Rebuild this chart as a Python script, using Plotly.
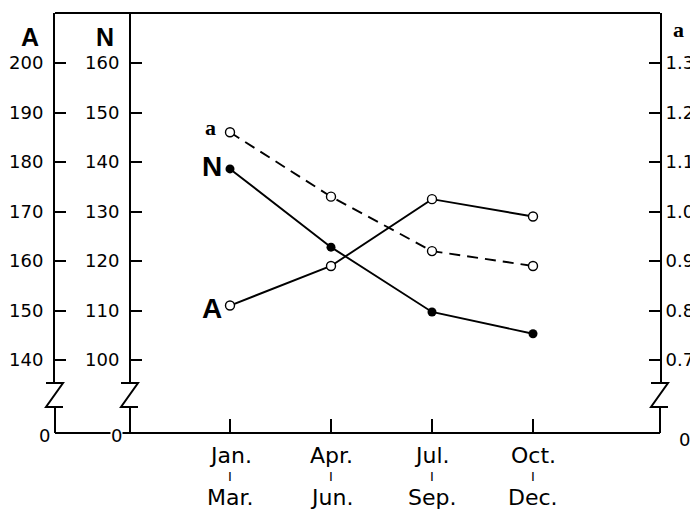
import plotly.graph_objects as go

# ---------------- data ----------------
periods_start = ["Jan.", "Apr.", "Jul.", "Oct."]
periods_end = ["Mar.", "Jun.", "Sep.", "Dec."]
A_values = [151, 159, 172.5, 169]
N_values = [138.6, 122.8, 109.7, 105.3]
a_values = [1.16, 1.03, 0.92, 0.89]
A_ticks = [140, 150, 160, 170, 180, 190, 200]
N_ticks = [100, 110, 120, 130, 140, 150, 160]
a_ticks = [0.7, 0.8, 0.9, 1.0, 1.1, 1.2, 1.3]
a_tick_text = ["0.7", "0.8", "0.9", "1.0", "1.1", "1.2", "1.3"]

# ---------------- layout geometry (screen pixels) ----------------
OFF = 8                      # page body margin
W, H = 698 - OFF, 510 - OFF
L, R, T, B = 55, 660, 13, 433
PW, PH = R - L, B - T
BRK_TOP, BRK_BOT = 383, 407
dom_bot = (B - BRK_TOP) / PH
N_X = 130
N_pos = (N_X - L) / PW

def px(x):
    return (x - L) / PW

def py(y):
    return (B - y) / PH

x_idx = list(range(len(periods_start)))
BLACK = "black"
NUMFONT = dict(family="DejaVu Sans", size=18, color=BLACK)

fig = go.Figure()

fig.add_trace(go.Scatter(
    x=x_idx, y=A_values, yaxis="y", mode="lines+markers",
    line=dict(color=BLACK, width=1.9),
    marker=dict(symbol="circle", size=9, color="white", line=dict(color=BLACK, width=1.4)),
    showlegend=False, name="A"))
fig.add_trace(go.Scatter(
    x=x_idx, y=N_values, yaxis="y2", mode="lines+markers",
    line=dict(color=BLACK, width=1.9),
    marker=dict(symbol="circle", size=9, color=BLACK),
    showlegend=False, name="N"))
fig.add_trace(go.Scatter(
    x=x_idx, y=a_values, yaxis="y3", mode="lines+markers",
    line=dict(color=BLACK, width=1.9, dash="11px,7px"),
    marker=dict(symbol="circle", size=9, color="white", line=dict(color=BLACK, width=1.4)),
    showlegend=False, name="a"))

common_y = dict(showgrid=False, zeroline=False, showline=True, linecolor=BLACK,
                linewidth=2, ticks="inside", ticklen=11, tickwidth=2, tickcolor=BLACK,
                tickfont=NUMFONT, domain=[dom_bot, 1])

fig.update_layout(
    width=W, height=H,
    margin=dict(l=L - OFF, r=W - (R - OFF), t=T - OFF, b=H - (B - OFF), autoexpand=False),
    paper_bgcolor="white", plot_bgcolor="white",
    xaxis=dict(range=[-(230 - L) / 101, 3 + (R - 533) / 101], tickvals=x_idx,
               ticktext=["" for _ in x_idx], showgrid=False, zeroline=False,
               showline=True, linecolor=BLACK, linewidth=2, ticks="inside",
               ticklen=13, tickwidth=2, tickcolor=BLACK, anchor="free", position=0),
    yaxis=dict(range=[140 - (BRK_TOP - 360) / 4.95, 200 + (63 - T) / 4.95],
               tickvals=A_ticks, ticklabelstandoff=6, side="left", **common_y),
    yaxis2=dict(range=[100 - (BRK_TOP - 360) / 4.95, 160 + (63 - T) / 4.95],
                tickvals=N_ticks, overlaying="y", anchor="free", position=N_pos,
                side="left", ticklabelstandoff=6, **common_y),
    yaxis3=dict(range=[0.7 - (BRK_TOP - 360) / 495, 1.3 + (63 - T) / 495],
                tickvals=a_ticks, ticktext=a_tick_text, overlaying="y", anchor="x",
                side="right", ticklabelstandoff=0, **common_y),
)

# ---------------- frame & axis breaks ----------------
shapes = [dict(type="line", xref="paper", yref="paper", x0=0, x1=1, y0=1, y1=1,
               line=dict(color=BLACK, width=2))]
for ax_x in [L, N_X, R]:
    shapes.append(dict(type="line", xref="paper", yref="paper",
                       x0=px(ax_x), x1=px(ax_x), y0=py(BRK_BOT), y1=0,
                       line=dict(color=BLACK, width=2)))
    path = (f"M {px(ax_x - 9)} {py(BRK_TOP)} L {px(ax_x + 8)} {py(BRK_TOP)} "
            f"L {px(ax_x - 9)} {py(BRK_BOT)} L {px(ax_x + 8)} {py(BRK_BOT)}")
    shapes.append(dict(type="path", xref="paper", yref="paper", path=path,
                       line=dict(color=BLACK, width=2)))
fig.update_layout(shapes=shapes)

# ---------------- text ----------------
def paper_text(text, x, y, font, **kw):
    return dict(text=text, x=px(x), y=py(y), xref="paper", yref="paper",
                xanchor="center", yanchor="middle", showarrow=False, font=font, **kw)

ann = []
ann.append(paper_text("<b>A</b>", 30, 37, dict(family="Liberation Sans", size=25, color=BLACK)))
ann.append(paper_text("<b>N</b>", 105, 37, dict(family="Liberation Sans", size=25, color=BLACK)))
ann.append(paper_text("<b>a</b>", 678, 30, dict(family="Liberation Serif", size=22, color=BLACK)))
ann.append(paper_text("0", 44, 435, NUMFONT))
ann.append(paper_text("0", 116, 435, NUMFONT, bgcolor="white", borderpad=0))
ann.append(paper_text("0", 684, 439, NUMFONT))
# series labels
ann.append(dict(text="<b>a</b>", x=x_idx[0], y=a_values[0], xref="x", yref="y3",
                xanchor="right", yanchor="middle", xshift=-12, yshift=5, showarrow=False,
                font=dict(family="Liberation Serif", size=22, color=BLACK)))
ann.append(dict(text="<b>N</b>", x=x_idx[0], y=N_values[0], xref="x", yref="y2",
                xanchor="right", yanchor="middle", xshift=-6, yshift=2, showarrow=False,
                font=dict(family="Liberation Sans", size=28, color=BLACK)))
ann.append(dict(text="<b>A</b>", x=x_idx[0], y=A_values[0], xref="x", yref="y",
                xanchor="right", yanchor="middle", xshift=-6, yshift=-3, showarrow=False,
                font=dict(family="Liberation Sans", size=28, color=BLACK)))
# category labels (three lines each)
for i in x_idx:
    ann.append(dict(text=periods_start[i], x=i, y=0, xref="x", yref="paper",
                    xanchor="center", yanchor="middle", yshift=-22, showarrow=False,
                    borderpad=0, font=dict(family="DejaVu Sans", size=22, color=BLACK)))
    ann.append(dict(text="I", x=i, y=0, xref="x", yref="paper",
                    xanchor="center", yanchor="middle", yshift=-43, showarrow=False,
                    borderpad=0, font=dict(family="DejaVu Sans", size=13, color=BLACK)))
    ann.append(dict(text=periods_end[i], x=i, y=0, xref="x", yref="paper",
                    xanchor="center", yanchor="middle", yshift=-64, showarrow=False,
                    borderpad=0, font=dict(family="DejaVu Sans", size=22, color=BLACK)))
fig.update_layout(annotations=ann)

fig.write_html("out.html")
